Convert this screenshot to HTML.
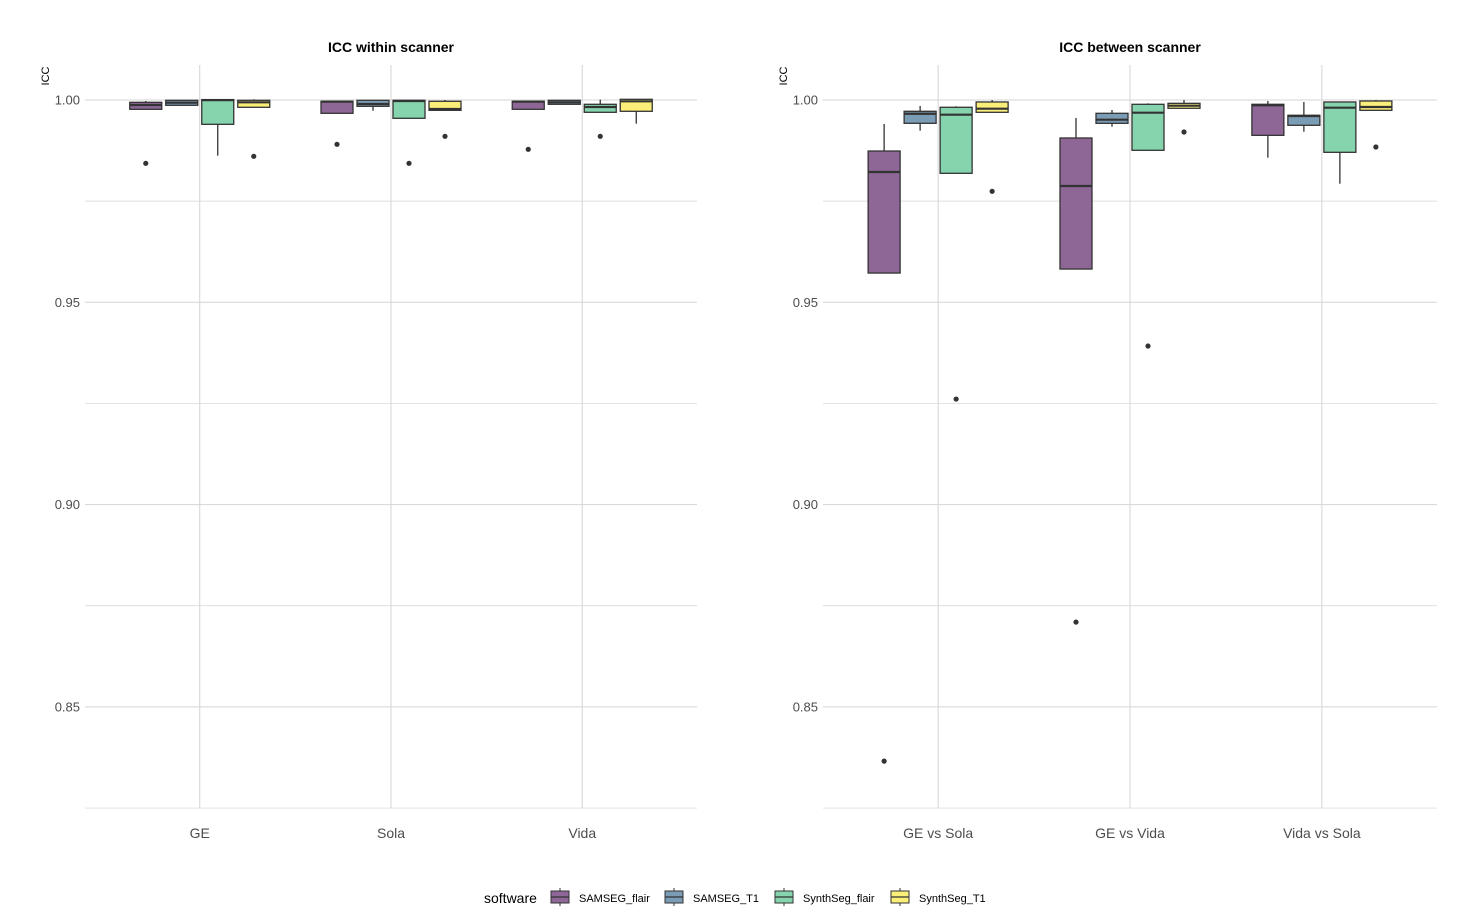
<!DOCTYPE html>
<html><head><meta charset="utf-8"><style>
body{margin:0;background:#fff;}
svg{display:block;font-family:"Liberation Sans",Arial,sans-serif;}
</style></head><body>
<svg id="chart" width="1477" height="916" viewBox="0 0 1477 916"></svg>
<script>
// Data: [lowWhisker, q1, median, q3, highWhisker] per group x software
const software = ["SAMSEG_flair","SAMSEG_T1","SynthSeg_flair","SynthSeg_T1"];
const colors = ["#8f6797","#7b9cb5","#86d4ae","#fbef7a"];
const withinCats = ["GE","Sola","Vida"];
const betweenCats = ["GE vs Sola","GE vs Vida","Vida vs Sola"];
const yTicks = [1.00,0.95,0.90,0.85];
const yTickLabels = ["1.00","0.95","0.90","0.85"];
const yMinor = [0.975,0.925,0.875,0.825];
const withinStats = [
 [[0.9977,0.9977,0.99876,0.99943,0.99975],[0.99869,0.99869,0.99933,0.99993,1.0],[0.98623,0.99399,0.99995,1.0001,1.0001],[0.9982,0.9982,0.99943,0.99993,1.00017]],
 [[0.99671,0.99671,0.99958,0.99968,0.99968],[0.99735,0.99844,0.99901,0.99993,0.99993],[0.99548,0.99548,0.99975,0.99993,0.99993],[0.99745,0.99745,0.99778,0.99968,1.0]],
 [[0.9977,0.9977,0.99958,0.99968,0.99968],[0.99894,0.99894,0.99943,0.99993,0.99993],[0.99696,0.99696,0.99827,0.99894,1.0001],[0.99414,0.99721,0.99968,1.00017,1.00017]]
];
const withinOutliers = [[[0.98435],[],[],[0.98608]],[[0.98905],[],[0.98435],[0.99103]],[[0.98781],[],[0.99103],[]]];
const betweenStats = [
 [[0.95723,0.95723,0.9822,0.98739,0.99407],[0.99241,0.99424,0.99661,0.99721,0.99852],[0.98188,0.98188,0.99637,0.9982,0.99844],[0.99696,0.99696,0.99785,0.99951,1.0]],
 [[0.95822,0.95822,0.97874,0.99061,0.99555],[0.9934,0.99424,0.99513,0.99671,0.99753],[0.98757,0.98757,0.99686,0.99894,0.99918],[0.99795,0.99795,0.99859,0.99918,1.0]],
 [[0.98574,0.99127,0.99869,0.99894,0.99975],[0.99216,0.99375,0.99604,0.99622,0.99951],[0.97931,0.98707,0.9981,0.99951,0.99951],[0.99745,0.99745,0.99827,0.99975,1.0]]
];
const betweenOutliers = [[[0.8366],[],[0.92609],[0.97743]],[[0.87096],[],[0.93919],[0.99209]],[[],[],[],[0.98838]]];

const NS="http://www.w3.org/2000/svg";
const svg=document.getElementById('chart');
function el(tag,attrs,parent){const e=document.createElementNS(NS,tag);for(const k in attrs)e.setAttribute(k,attrs[k]);(parent||svg).appendChild(e);return e;}
function yScale(v){return 100+(1-v)*4046;}

function panel(x0,x1,title,cats,stats,outs,name){
  const g=el('g',{});
  
  
  const grid=el('g',{stroke:'#d4d4d4','stroke-width':1},g);
  
  
  yMinor.forEach(v=>el('line',{x1:x0,x2:x1,y1:yScale(v),y2:yScale(v),'stroke-width':0.7},grid));
  yTicks.forEach(v=>el('line',{x1:x0,x2:x1,y1:yScale(v),y2:yScale(v)},grid));
  const step=(x1-x0)/3.2;
  const cx=i=>x0+step*(0.6+i)+ (i*0); 
  const centers=cats.map((c,i)=>x0+(x1-x0)*(0.1875+i*0.3125));
  centers.forEach(c=>el('line',{x1:c,x2:c,y1:65,y2:808},grid));
  yTicks.forEach((v,i)=>{const t=el('text',{x:x0-5,y:yScale(v)+4.5,'text-anchor':'end','font-size':13,fill:'#4d4d4d'},g);t.textContent=yTickLabels[i];
    });
  const yl=el('text',{transform:`translate(${x0-36},76) rotate(-90)`,'text-anchor':'middle','font-size':11,fill:'#000'},g);
  yl.textContent='ICC';
  const tt=el('text',{x:(x0+x1)/2,y:52,'text-anchor':'middle','font-size':14,'font-weight':'bold',fill:'#000'},g);
  tt.textContent=title;
  const offs=[-54,-18,18,54], w=32;
  cats.forEach((c,i)=>{
    const lbl=el('text',{x:centers[i],y:838,'text-anchor':'middle','font-size':14,fill:'#4d4d4d'},g);
    lbl.textContent=c;
    software.forEach((s,j)=>{
      const st=stats[i][j], bx=centers[i]+offs[j];
      const b=el('g',{stroke:'#333','stroke-width':1.3},g);
      
      
      el('line',{x1:bx,x2:bx,y1:yScale(st[0]),y2:yScale(st[1])},b);
      el('line',{x1:bx,x2:bx,y1:yScale(st[3]),y2:yScale(st[4])},b);
      el('rect',{x:bx-w/2,y:yScale(st[3]),width:w,height:Math.max(1,yScale(st[1])-yScale(st[3])),fill:colors[j]},b);
      el('line',{x1:bx-w/2,x2:bx+w/2,y1:yScale(st[2]),y2:yScale(st[2]),'stroke-width':2.2},b);
      outs[i][j].forEach(o=>{const p=el('circle',{cx:bx,cy:yScale(o),r:2.6,fill:'#333',stroke:'none'},g);
        });
    });
  });
}
panel(85,697,'ICC within scanner',withinCats,withinStats,withinOutliers,'within');
panel(823,1437,'ICC between scanner',betweenCats,betweenStats,betweenOutliers,'between');

// legend
const lg=el('g',{});


const lt=el('text',{x:484,y:903,'font-size':14,fill:'#000'},lg);lt.textContent='software';
const lx=[551,665,775,891];
software.forEach((s,j)=>{
  const e=el('g',{},lg);
  
  
  el('line',{x1:lx[j]+9,x2:lx[j]+9,y1:888,y2:906,stroke:'#333'},e);
  el('rect',{x:lx[j],y:891,width:18,height:12,fill:colors[j],stroke:'#333','stroke-width':1},e);
  el('line',{x1:lx[j],x2:lx[j]+18,y1:897,y2:897,stroke:'#333','stroke-width':1.3},e);
  const t=el('text',{x:lx[j]+28,y:902,'font-size':11,fill:'#000'},e);t.textContent=s;
});
</script>
</body></html>
